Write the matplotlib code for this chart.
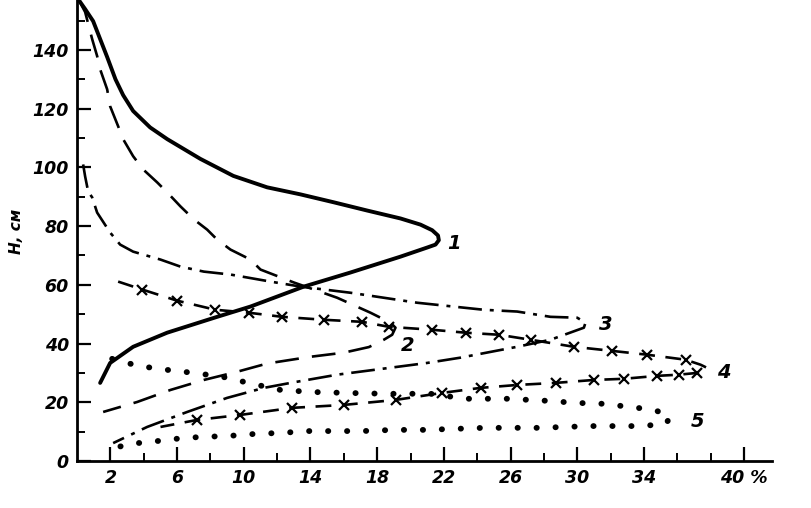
import matplotlib
matplotlib.use("Agg")
import matplotlib.pyplot as plt

# curve 1 (solid)
c1_x = [0.06, 0.48, 0.96, 1.38, 1.80, 2.30, 2.76, 3.36, 4.38, 5.41, 7.39, 9.37, 11.4, 13.4, 15.4, 17.4,
        19.4, 20.6, 21.3, 21.65, 21.7, 21.5, 21.0, 19.4, 16.4, 13.6, 10.4, 8.4, 5.4, 3.36, 1.98, 1.38]
c1_y = [157.3, 153.9, 149.8, 143.7, 137.6, 130.0, 124.6, 119.2, 113.6, 109.6, 102.9, 97.1, 93.2, 90.8,
        88.1, 85.3, 82.6, 80.5, 78.6, 76.8, 75.2, 73.7, 72.7, 69.6, 64.2, 59.4, 52.6, 49.1, 43.7, 38.9,
        33.4, 26.6]

# curve 2 (long dashes)
c2_x = [0.1, 0.48, 0.9, 1.2, 1.38, 1.8, 1.98, 2.46, 2.76, 3.36, 3.96, 4.8, 5.4, 6.2, 7.0, 7.8, 8.4,
        9.2, 10.4, 11.0, 13.0, 15.6, 17.6, 18.8, 19.1, 18.9, 18.4, 17.5, 16.0, 14.0, 11.4, 9.6, 7.6,
        5.6, 3.6, 1.56]
c2_y = [157, 152.9, 143.7, 137.9, 133.4, 126.6, 120.8, 114.0, 109.6, 103.8, 99.3, 94.9, 91.5, 86.7,
        82.3, 78.8, 75.4, 72.0, 68.6, 65.2, 60.8, 55.6, 50.5, 47.1, 45.4, 43.0, 41.3, 38.8, 36.9, 35.5,
        33.2, 30.4, 27.6, 24.2, 20.1, 16.7]

# curve 3 (dash-dot)
c3_x = [0.36, 0.48, 0.66, 0.9, 1.2, 1.98, 2.58, 3.36, 5.0, 6.2, 7.6, 9.2, 10.2, 11.6, 13.4, 16.4,
        20.4, 24.4, 26.4, 28.4, 30.0, 30.5,
        30.4, 28.4, 26.4, 23.0, 21.0, 15.6, 12.8, 11.2, 9.0, 6.6, 4.2, 2.16]
c3_y = [101, 96.9, 91.8, 89.8, 84.6, 77.8, 73.7, 71.3, 68.6, 66.2, 64.5, 63.5, 62.5, 61.1, 59.4, 57.3,
        53.9, 51.5, 50.9, 49.1, 48.8, 47.1,
        45.4, 41.3, 38.9, 35.2, 33.4, 29.4, 26.6, 24.9, 21.5, 16.7, 11.6, 6.1]

# curve 4 (dashes with crosses)
c4_x = [2.46, 3.9, 6.0, 8.3, 10.3, 12.3, 14.8, 17.1, 18.7, 21.3, 23.3, 25.3, 27.2, 29.8, 32.1, 34.2,
        36.5, 37.4, 37.8,
        37.2, 36.1, 34.8, 32.8, 31.0, 28.7, 26.4, 24.2, 21.9, 19.1, 16.0, 12.9, 9.8, 7.2, 5.0]
c4_y = [61.1, 58.4, 54.6, 51.5, 50.5, 49.1, 48.1, 47.4, 45.7, 44.7, 43.7, 43.0, 41.3, 38.9, 37.5, 36.2,
        34.5, 32.8, 31.7,
        30.0, 29.4, 29.0, 28.0, 27.6, 26.6, 25.9, 24.9, 23.2, 20.8, 19.1, 18.1, 15.7, 14.0, 11.6]
c4_marks = [1, 2, 3, 4, 5, 6, 7, 8, 9, 10, 11, 12, 13, 14, 15, 16, 19, 20, 21, 22, 23, 24, 25, 26,
            27, 28, 29, 30, 31, 32]

# curve 5 (dotted)
c5_x = [2.1, 3.66, 5.3, 7.0, 8.7, 10.5, 12.2, 14.1, 16.1, 18.5, 21.2, 23.3, 25.8, 28.2, 29.9, 31.5,
        33.2, 34.6, 35.3, 35.6,
        35.3, 33.8, 32.3, 30.8, 29.3, 27.6, 25.9, 24.4, 22.4, 20.8, 19.0, 17.1, 15.5, 13.9, 12.3, 10.6,
        9.0, 7.4, 5.8, 4.4, 3.06, 2.28]
c5_y = [34.8, 32.4, 31.1, 30.0, 28.7, 26.3, 24.2, 23.5, 23.2, 22.9, 22.9, 21.2, 21.2, 20.5, 19.8, 19.5,
        18.4, 17.4, 16.0, 15.0,
        12.6, 11.9, 11.9, 11.9, 11.6, 11.3, 11.3, 11.3, 10.9, 10.6, 10.6, 10.2, 10.2, 10.2, 9.6, 9.2,
        8.5, 8.2, 7.5, 6.5, 5.8, 4.4]

curve_labels = ["1", "2", "3", "4", "5"]
label_x = [22.2, 19.4, 31.3, 38.4, 36.8]
label_y = [74.0, 39.5, 46.5, 30.0, 13.5]

x_major = [2, 6, 10, 14, 18, 22, 26, 30, 34, 40]
x_major_labels = ["2", "6", "10", "14", "18", "22", "26", "30", "34", "40 %"]
x_minor = [4, 8, 12, 16, 20, 24, 28, 32, 36, 38]
y_major = [0, 20, 40, 60, 80, 100, 120, 140]
y_minor = [10, 30, 50, 70, 90, 110, 130, 150]

fig = plt.figure(figsize=(8.12, 5.08), dpi=100)
ax = fig.add_axes([0.095, 0.0925, 0.856, 0.9075])

ax.plot(c1_x, c1_y, color="black", lw=2.8, solid_capstyle="round", solid_joinstyle="round")
ax.plot(c2_x, c2_y, color="black", lw=1.9, dashes=(9, 5))
ax.plot(c3_x, c3_y, color="black", lw=1.9, dashes=(9, 3, 1.5, 3))
ax.plot(c4_x, c4_y, color="black", lw=1.9, dashes=(6, 4), marker="x", markersize=7,
        markeredgewidth=1.6, markevery=c4_marks)
ax.plot(c5_x, c5_y, color="black", lw=4.2, linestyle=(0, (0.05, 3.2)), dash_capstyle="round")

for t, lx, ly in zip(curve_labels, label_x, label_y):
    ax.text(lx, ly, t, fontsize=14, fontstyle="italic", fontweight="bold", ha="left", va="center")

ax.set_xlim(0, 41.7)
ax.set_ylim(0, 157)
ax.spines["top"].set_visible(False)
ax.spines["right"].set_visible(False)
ax.spines["left"].set_linewidth(2)
ax.spines["bottom"].set_linewidth(2)

ax.set_xticks(x_major)
ax.set_xticklabels(x_major_labels, fontsize=12.5, fontstyle="italic", fontweight="bold")
ax.set_xticks(x_minor, minor=True)
ax.set_yticks(y_major)
ax.set_yticklabels([str(v) for v in y_major], fontsize=12.5, fontstyle="italic", fontweight="bold")
ax.set_yticks(y_minor, minor=True)
ax.tick_params(axis="both", which="major", direction="in", length=10, width=1.6, pad=6)
ax.tick_params(axis="both", which="minor", direction="in", length=6, width=1.4)

fig.text(0.02, 0.545, "H, см", rotation=90, fontsize=11, fontstyle="italic",
         fontweight="bold", ha="center", va="center")

fig.savefig("out.png", dpi=100)
